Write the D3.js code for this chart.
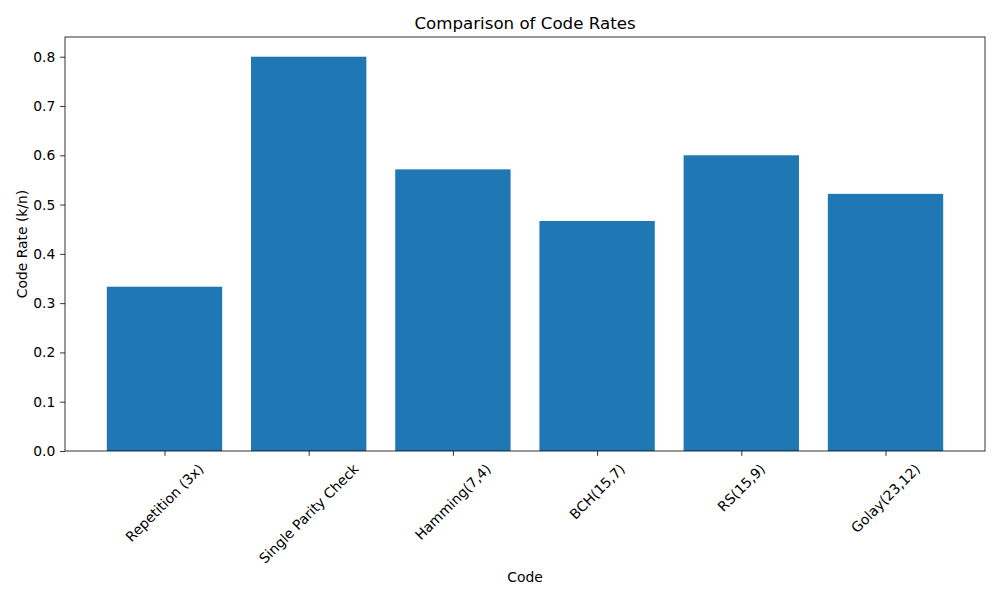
<!DOCTYPE html>
<html><head><meta charset="utf-8">
<script src="https://cdn.jsdelivr.net/npm/d3@7"></script>
<style>body{margin:0;background:#fff}svg{font-family:"DejaVu Sans",sans-serif}</style>
</head><body><svg id="c" width="1000" height="600"></svg>
<script>
const categories = ["Repetition (3x)","Single Parity Check","Hamming(7,4)","BCH(15,7)","RS(15,9)","Golay(23,12)"];
const rates = [1/3, 0.8, 4/7, 7/15, 9/15, 12/23];
const yTicks = [0,0.1,0.2,0.3,0.4,0.5,0.6,0.7,0.8];

const svg = d3.select("#c");
const L=65, R=985, T=37, B=451;
const fs = 13.89;
const x = d3.scaleLinear().domain([-0.69, categories.length-1+0.69]).range([L,R]);
const y = d3.scaleLinear().domain([0,0.84]).range([B,T]);

svg.selectAll("rect.bar").data(rates).join("rect").attr("class","bar")
  .attr("x",(d,i)=>x(i-0.4)).attr("width",(d,i)=>x(i+0.4)-x(i-0.4))
  .attr("y",d=>y(d)).attr("height",d=>B-y(d)).attr("fill","#1f77b4");

const yAxis = svg.append("g").attr("transform",`translate(${L},0)`)
  .call(d3.axisLeft(y).tickValues(yTicks).tickFormat(d3.format(".1f")).tickSize(4.86).tickPadding(4.86));
const xAxis = svg.append("g").attr("transform",`translate(0,${B})`)
  .call(d3.axisBottom(x).tickValues(d3.range(categories.length)).tickFormat("").tickSize(4.86));
[yAxis,xAxis].forEach(g=>{g.select(".domain").remove();g.selectAll("line").attr("stroke","#000").attr("stroke-width",0.8);
  g.selectAll("text").attr("font-size",fs).attr("fill","#000").attr("font-family","DejaVu Sans");});

svg.append("rect").attr("x",L).attr("y",T).attr("width",R-L).attr("height",B-T)
  .attr("fill","none").attr("stroke","#000").attr("stroke-width",0.8);

categories.forEach((c,i)=>{
  const g = svg.append("g");
  const t = g.append("text").text(c).attr("font-size",fs).attr("text-anchor","middle")
    .attr("dominant-baseline","central").attr("fill","#000");
  const len = t.node().getComputedTextLength();
  const H = (len+fs*1.15)*Math.SQRT1_2;
  g.attr("transform",`translate(${x(i)},${B+9.7+H/2}) rotate(-45)`);
});

svg.append("text").attr("x",(L+R)/2).attr("y",T-8).attr("text-anchor","middle")
  .attr("font-size",16.67).text("Comparison of Code Rates");
svg.append("text").attr("x",(L+R)/2).attr("y",582).attr("text-anchor","middle")
  .attr("font-size",fs).text("Code");
svg.append("text").attr("transform",`translate(27,${(T+B)/2}) rotate(-90)`).attr("text-anchor","middle")
  .attr("font-size",fs).text("Code Rate (k/n)");
</script></body></html>
